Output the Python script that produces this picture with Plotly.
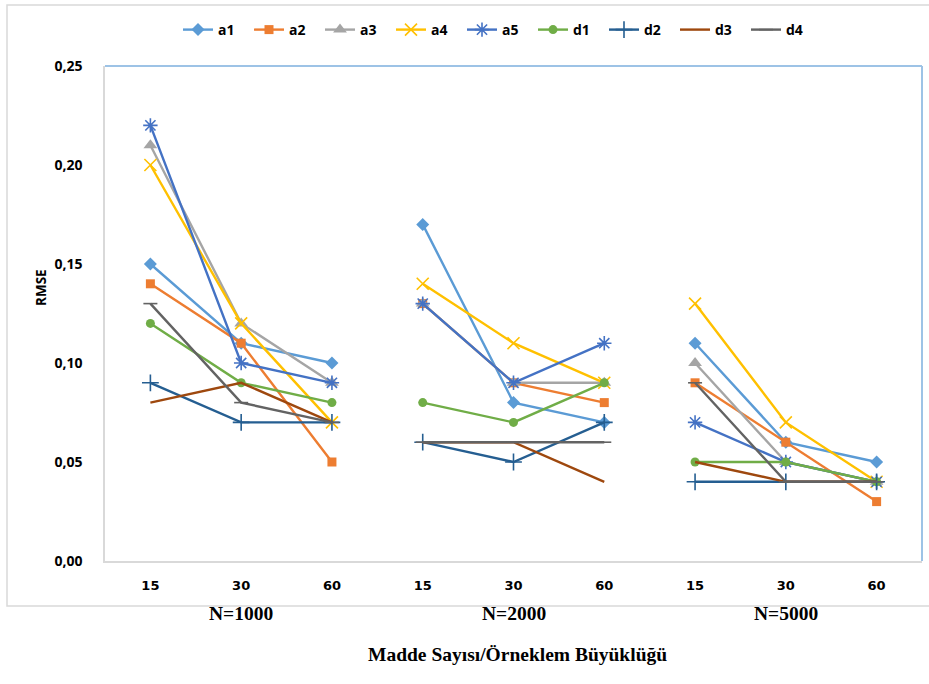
import plotly.graph_objects as go

# Item counts (x categories) within each sample-size group
item_counts = ["15", "30", "60"]
sample_groups = ["N=1000", "N=2000", "N=5000"]

# RMSE values: 15/30/60 items for N=1000, N=2000, N=5000
a1 = [0.15, 0.11, 0.10, 0.17, 0.08, 0.07, 0.11, 0.06, 0.05]
a2 = [0.14, 0.11, 0.05, 0.13, 0.09, 0.08, 0.09, 0.06, 0.03]
a3 = [0.21, 0.12, 0.09, 0.13, 0.09, 0.09, 0.10, 0.05, 0.04]
a4 = [0.20, 0.12, 0.07, 0.14, 0.11, 0.09, 0.13, 0.07, 0.04]
a5 = [0.22, 0.10, 0.09, 0.13, 0.09, 0.11, 0.07, 0.05, 0.04]
d1 = [0.12, 0.09, 0.08, 0.08, 0.07, 0.09, 0.05, 0.05, 0.04]
d2 = [0.09, 0.07, 0.07, 0.06, 0.05, 0.07, 0.04, 0.04, 0.04]
d3 = [0.08, 0.09, 0.07, 0.06, 0.06, 0.04, 0.05, 0.04, 0.04]
d4 = [0.13, 0.08, 0.07, 0.06, 0.06, 0.06, 0.09, 0.04, 0.04]

series_names = ["a1", "a2", "a3", "a4", "a5", "d1", "d2", "d3", "d4"]
series_values = [a1, a2, a3, a4, a5, d1, d2, d3, d4]

colors = ["#5B9BD5", "#ED7D31", "#A5A5A5", "#FFC000", "#4472C4",
          "#70AD47", "#255E91", "#9E480E", "#636363"]
symbols = ["diamond", "square", "triangle-up", "x-thin", "asterisk",
           "circle", "cross-thin", "circle", "line-ew"]
sizes = [10, 9, 12, 12, 12, 9, 12, 0, 10]

positions = list(range(len(item_counts) * len(sample_groups)))

fig = go.Figure()
for name, vals, col, sym, sz in zip(series_names, series_values, colors, symbols, sizes):
    xs, ys = [], []
    for g in range(len(sample_groups)):
        xs += positions[3 * g:3 * g + 3] + [None]
        ys += vals[3 * g:3 * g + 3] + [None]
    thin = sym in ("x-thin", "asterisk", "cross-thin", "line-ew")
    fig.add_trace(go.Scatter(
        x=xs, y=ys, name=name, mode="lines+markers" if sz else "lines",
        connectgaps=False,
        line=dict(color=col, width=2.4),
        marker=dict(symbol=sym, size=sz, color=col,
                    line=dict(color=col, width=1.6 if thin else 0)),
    ))

# pixel -> paper helpers for the 105..922 x 66..561 plotting area
L, R, T, B = 105, 922, 66, 561
def px(x):
    return (x - L) / (R - L)
def py(y):
    return (B - y) / (B - T)

shapes = [
    # outer chart frame
    dict(type="rect", xref="paper", yref="paper", x0=px(7), x1=px(935), y0=py(606), y1=py(5),
         line=dict(color="#D9D9D9", width=1.5), layer="below"),
    # top and right edges of plotting area
    dict(type="line", xref="paper", yref="paper", x0=0, x1=1, y0=1, y1=1,
         line=dict(color="#9DC3E6", width=2)),
    dict(type="line", xref="paper", yref="paper", x0=1, x1=1, y0=0, y1=1,
         line=dict(color="#9DC3E6", width=2)),
]

annotations = []
for g, lab in enumerate(sample_groups):
    annotations.append(dict(x=3 * g + 1, xref="x", y=py(626), yref="paper", text="<b>%s</b>" % lab,
                            showarrow=False, font=dict(family="Liberation Serif", size=19.5, color="#000000")))
annotations.append(dict(x=px(517), xref="paper", y=py(667), yref="paper",
                        text="<b>Madde Sayısı/Örneklem Büyüklüğü</b>", showarrow=False,
                        font=dict(family="Liberation Serif", size=19.5, color="#000000")))
annotations.append(dict(x=px(30), xref="paper", y=py(288), yref="paper", text="<b>RMSE</b>",
                        textangle=-90, showarrow=False,
                        font=dict(family="Open Sans", size=13.5, color="#000000")))

fig.update_layout(
    width=929, height=684,
    margin=dict(l=L, r=929 - R, t=T, b=684 - B, autoexpand=False),
    paper_bgcolor="white", plot_bgcolor="white",
    separators=",.",
    showlegend=True,
    legend=dict(orientation="h", x=px(178), xanchor="left", y=py(30), yanchor="middle",
                entrywidth=26, entrywidthmode="pixels", itemwidth=30,
                bgcolor="rgba(0,0,0,0)",
                font=dict(family="Open Sans", size=14, color="#000000", weight="bold"),
                tracegroupgap=0),
    xaxis=dict(range=[-0.5, 8.5], tickmode="array", tickvals=positions,
               ticktext=["<b>%s</b>" % c for c in item_counts * 3],
               showgrid=False, zeroline=False, showline=True, linecolor="#D9D9D9", linewidth=1.5,
               ticks="", ticklabelstandoff=12,
               tickfont=dict(family="DejaVu Sans", size=13, color="#000000")),
    yaxis=dict(range=[0, 0.25], dtick=0.05, tickformat=".2f", showgrid=False, zeroline=False,
               showline=True, linecolor="#D9D9D9", linewidth=1.5, ticks="", ticklabelstandoff=18,
               tickprefix="<b>", ticksuffix="</b>",
               tickfont=dict(family="Open Sans", size=14, color="#000000")),
    shapes=shapes,
    annotations=annotations,
)

fig.write_html("out.html")
